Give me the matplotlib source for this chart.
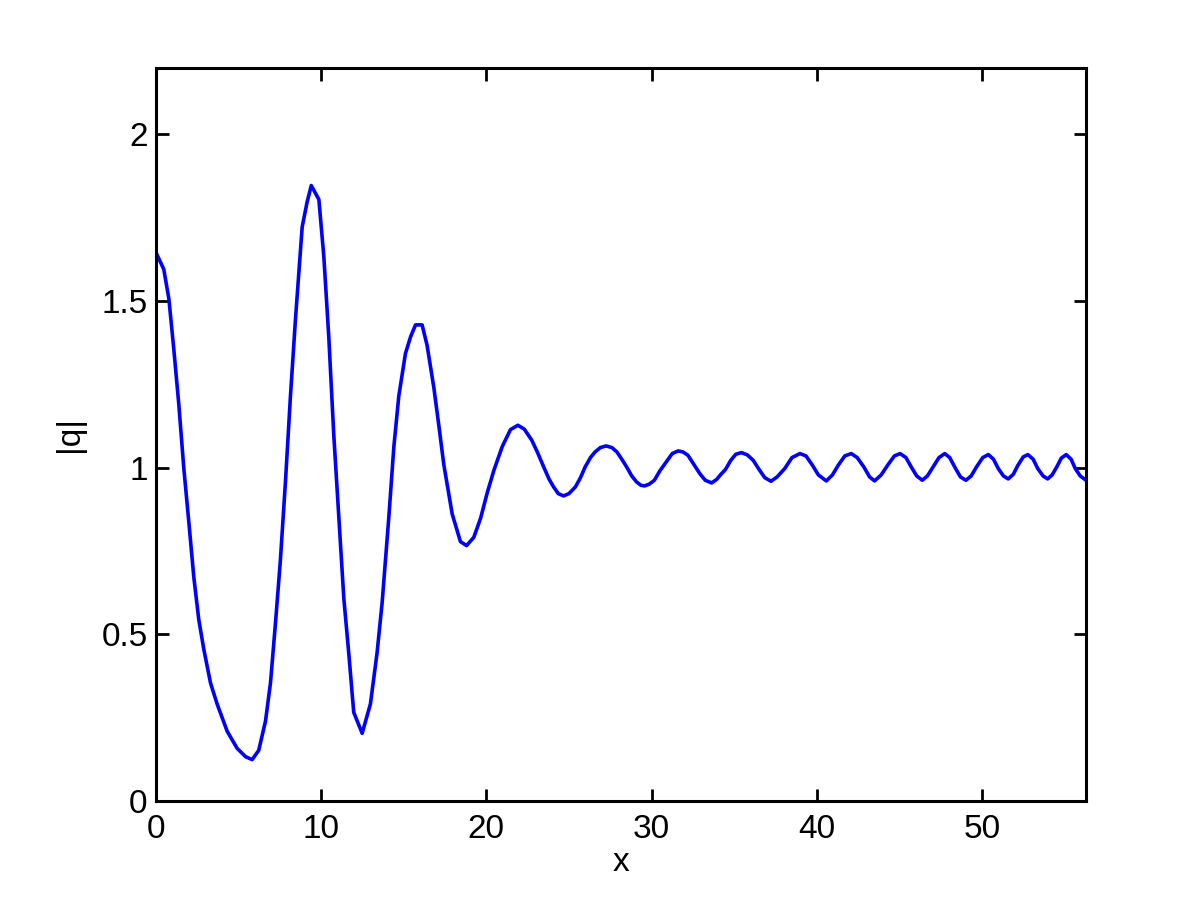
import matplotlib
matplotlib.use("Agg")
from matplotlib import pyplot as plt

# values
x = [0.0, 0.47, 0.78, 1.08, 1.38, 1.68, 1.99, 2.29, 2.59, 2.89, 3.30, 3.70,
     4.31, 4.91, 5.42, 5.82, 6.22, 6.63, 6.93, 7.23, 7.53, 7.84, 8.14, 8.44,
     8.85, 9.15, 9.40, 9.86, 10.16, 10.46, 10.76, 11.07, 11.37, 11.67, 11.97,
     12.48, 12.98, 13.38, 13.69, 14.09, 14.40, 14.70, 15.10, 15.41, 15.71,
     16.11, 16.41, 16.82, 17.12, 17.42, 17.93, 18.43, 18.80, 19.24, 19.65,
     20.05, 20.45, 20.96, 21.46, 21.91, 22.3, 22.75, 23.1, 23.47, 23.8, 24.07,
     24.35, 24.67, 25.0, 25.39, 25.7, 25.98, 26.3, 26.58, 26.9, 27.25, 27.6,
     27.90, 28.2, 28.49, 28.8, 29.09, 29.35, 29.57, 29.85, 30.17, 30.5, 30.89,
     31.25, 31.61, 31.9, 32.20, 32.55, 32.92, 33.25, 33.64, 33.95, 34.2, 34.47,
     34.8, 35.1, 35.44, 35.8, 36.15, 36.5, 36.85, 37.23, 37.6, 38.06, 38.5,
     38.98, 39.35, 39.74, 40.1, 40.58, 40.95, 41.30, 41.7, 42.09, 42.45, 42.85,
     43.2, 43.50, 43.9, 44.29, 44.7, 45.05, 45.4, 45.72, 46.05, 46.39, 46.7,
     47.04, 47.4, 47.75, 48.05, 48.35, 48.7, 49.03, 49.35, 49.67, 50.05, 50.39,
     50.7, 50.99, 51.3, 51.59, 51.9, 52.18, 52.5, 52.78, 53.1, 53.38, 53.7,
     53.98, 54.25, 54.53, 54.8, 55.10, 55.4, 55.65, 55.95, 56.30]
q = [1.645, 1.595, 1.506, 1.354, 1.19, 1.0, 0.835, 0.671, 0.544, 0.456, 0.354,
     0.291, 0.209, 0.158, 0.133, 0.124, 0.152, 0.24, 0.354, 0.532, 0.722, 0.96,
     1.215, 1.443, 1.722, 1.797, 1.846, 1.804, 1.633, 1.392, 1.10, 0.848, 0.608,
     0.443, 0.266, 0.203, 0.291, 0.443, 0.595, 0.848, 1.063, 1.215, 1.342,
     1.392, 1.428, 1.428, 1.367, 1.24, 1.127, 1.01, 0.861, 0.778, 0.766, 0.791,
     0.848, 0.924, 0.991, 1.063, 1.114, 1.127, 1.115, 1.082, 1.045, 1.002,
     0.965, 0.942, 0.922, 0.915, 0.922, 0.942, 0.97, 1.002, 1.030, 1.047, 1.060,
     1.065, 1.060, 1.047, 1.025, 1.002, 0.975, 0.957, 0.947, 0.945, 0.950,
     0.962, 0.990, 1.017, 1.042, 1.050, 1.047, 1.037, 1.010, 0.982, 0.962,
     0.954, 0.965, 0.980, 0.994, 1.022, 1.040, 1.045, 1.038, 1.022, 0.995,
     0.970, 0.959, 0.972, 0.997, 1.030, 1.042, 1.035, 1.007, 0.978, 0.960,
     0.978, 1.007, 1.035, 1.042, 1.030, 1.002, 0.972, 0.960, 0.978, 1.007,
     1.035, 1.042, 1.030, 1.002, 0.975, 0.962, 0.975, 1.002, 1.030, 1.042,
     1.030, 1.002, 0.972, 0.962, 0.975, 1.002, 1.030, 1.039, 1.025, 0.997,
     0.975, 0.966, 0.980, 1.007, 1.032, 1.039, 1.025, 0.997, 0.975, 0.966,
     0.978, 1.002, 1.028, 1.039, 1.025, 0.997, 0.975, 0.962]

xticks = [0, 10, 20, 30, 40, 50]
yticks = [0, 0.5, 1, 1.5, 2]
ytick_labels = ['0', '0.5', '1', '1.5', '2']

plt.rcParams['font.family'] = ['Liberation Sans', 'DejaVu Sans']

fig = plt.figure(figsize=(12, 9), dpi=100)
ax = fig.add_axes([0.13, 0.11, 0.775, 0.815])
ax.plot(x, q, color=(0, 0, 1), linewidth=2.6)

ax.set_xlim(0, 56.3)
ax.set_ylim(0, 2.2)
ax.set_xticks(xticks)
ax.set_yticks(yticks)
ax.set_xticklabels([str(t) for t in xticks])
ax.set_yticklabels(ytick_labels)
ax.tick_params(direction='in', length=9, width=2, labelsize=24,
               top=True, right=True)
ax.tick_params(axis='x', pad=9)
ax.tick_params(axis='y', pad=6)
for s in ax.spines.values():
    s.set_linewidth(2.2)

ax.set_xlabel('x', fontsize=24, labelpad=2)
ax.set_ylabel('|q|', fontsize=24, labelpad=12)

fig.savefig('out.png', dpi=100)
